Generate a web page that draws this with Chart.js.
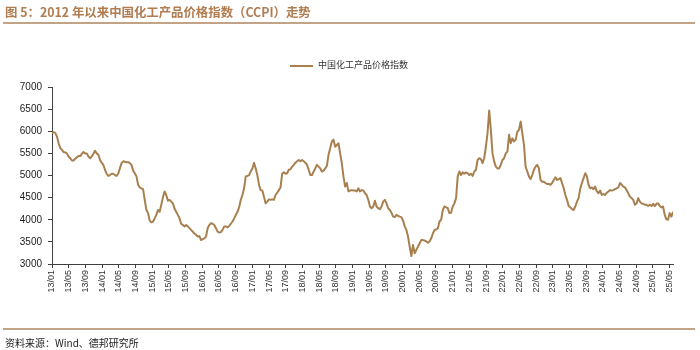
<!DOCTYPE html>
<html lang="zh-CN">
<head>
    <meta charset="UTF-8">
    <title>中国化工产品价格指数（CCPI）走势</title>
    <script src="https://cdn.jsdelivr.net/npm/chart.js"></script>
    <style>
        body {
            margin: 0;
            background: #fff;
            font-family: "Noto Sans CJK SC", "Liberation Sans", sans-serif;
        }
        .page {
            position: relative;
            width: 700px;
            height: 350px;
            overflow: hidden;
        }
        .title {
            position: absolute;
            left: 5px;
            top: 3px;
            font-size: 12.4px;
            font-weight: bold;
            color: #b07c50;
            white-space: nowrap;
        }
        .rule {
            position: absolute;
            left: 3px;
            width: 692px;
            height: 2px;
            background: #c2a386;
        }
        .legend {
            position: absolute;
            left: 290px;
            top: 58px;
            font-size: 9px;
            color: #333;
            white-space: nowrap;
        }
        .legend .swatch {
            display: inline-block;
            width: 23px;
            height: 2px;
            background: #a8804f;
            vertical-align: middle;
            margin-right: 5px;
        }
        .source {
            position: absolute;
            left: 5px;
            top: 335px;
            font-size: 10px;
            color: #222;
            white-space: nowrap;
        }
        .chart-box {
            position: absolute;
            left: 0;
            top: 0;
            width: 700px;
            height: 350px;
        }
    </style>
</head>
<body>
<div class="page">
    <div class="chart-box"><canvas id="ccpiChart"></canvas></div>
    <div class="title">图 5：2012 年以来中国化工产品价格指数（CCPI）走势</div>
    <div class="rule" style="top:22px"></div>
    <div class="legend"><span class="swatch"></span>中国化工产品价格指数</div>
    <div class="rule" style="top:328px"></div>
    <div class="source">资料来源：Wind、德邦研究所</div>
</div>

<script>
    // CCPI readings, evenly spaced from 2013/01 to mid-2025/06
    var ccpi2013to2015 = [5960,5980,5960,5880,5730,5620,5580,5530,5520,5500,5430,5390,5340,5340,5380,5410,5440,5440,5490,5530,
        5500,5500,5430,5390,5430,5490,5560,5500,5470,5350,5290,5240,5130,5040,4990,5010,5040,5040,5010,4990,
        5040,5160,5280,5320,5310,5300,5300,5280,5240,5110,5050,4980,4790,4730,4710,4690,4450,4220,4150,3980,
        3940,3960,4030,4110,4220,4180,4340,4510,4640,4560,4430,4450,4410,4370,4250];
    var ccpi2015to2017 = [4180,4110,4030,3910,3880,3850,3880,3850,3810,3770,3730,3690,3660,3620,3630,3540,3560,3580,3620,3810,
        3880,3920,3910,3880,3810,3730,3710,3720,3770,3850,3850,3830,3860,3910,3960,4030,4110,4180,4280,4450,
        4560,4710,4980,4990,5010,5090,5160,5290,5160,5010,4790,4670,4660,4520,4370,4410,4460,4450,4460,4450,
        4560,4610,4670,4730,5040,5070,5040,5050,5130,5140,5200,5240,5290,5320,5350];
    var ccpi2017to2020 = [5320,5350,5320,5290,5240,5130,5010,5010,5090,5160,5240,5200,5160,5090,5110,5160,5220,5470,5620,5770,
        5810,5650,5690,5730,5500,5280,4980,4750,4830,4640,4660,4670,4660,4660,4640,4710,4640,4670,4660,4600,
        4560,4450,4300,4260,4300,4430,4300,4260,4240,4300,4410,4450,4370,4260,4220,4160,4070,4060,4110,4090,
        4070,4060,3980,3850,3770,3620,3390,3180,3430,3240,3320,3390,3470,3540,3540];
    var ccpi2020to2022 = [3530,3510,3480,3510,3580,3690,3770,3780,3810,3960,4000,4220,4300,4280,4260,4150,4160,4300,4370,4490,
        4980,5090,5010,5070,5040,5070,5050,5010,5040,4990,5090,5130,5350,5390,5370,5280,5390,5650,5960,6470,
        6030,5500,5320,5200,5160,5160,5240,5350,5390,5500,5540,5920,5730,5840,5770,5810,5990,6030,6220,5960,
        5690,5200,5090,4980,4920,5010,5130,5200,5240,5160,4900,4860,4860,4830,4810];
    var ccpi2022to2025 = [4810,4790,4830,4900,4960,4900,4920,4940,4830,4710,4560,4450,4310,4280,4240,4220,4300,4410,4490,4710,
        4830,4940,5050,4980,4790,4710,4730,4690,4750,4640,4600,4660,4560,4580,4560,4610,4640,4670,4660,4670,
        4690,4710,4730,4830,4790,4750,4730,4670,4600,4520,4490,4450,4340,4370,4490,4410,4370,4360,4340,4340,
        4310,4340,4310,4360,4310,4360,4370,4310,4280,4300,4110,4010,4000,4150,4070,4180];

    var xTickLabels = ['13/01','13/05','13/09','14/01','14/05','14/09','15/01','15/05','15/09','16/01','16/05','16/09',
        '17/01','17/05','17/09','18/01','18/05','18/09','19/01','19/05','19/09','20/01','20/05','20/09',
        '21/01','21/05','21/09','22/01','22/05','22/09','23/01','23/05','23/09','24/01','24/05','24/09',
        '25/01','25/05'];
    var yTicks = [3000, 3500, 4000, 4500, 5000, 5500, 6000, 6500, 7000];

    var seriesName = '中国化工产品价格指数';
    var lineColor = '#a8804f';
    var axisColor = '#404040';
    var lastMonth = 148.8; // months after 13/01 of the final reading

    var ccpi = [].concat(ccpi2013to2015, ccpi2015to2017, ccpi2017to2020, ccpi2020to2022, ccpi2022to2025);
    var step = lastMonth / (ccpi.length - 1);
    var points = ccpi.map(function (v, i) {
        return { x: i * step, y: v };
    });

    var ctx = document.getElementById('ccpiChart').getContext('2d');
    new Chart(ctx, {
        type: 'line',
        data: {
            datasets: [{
                label: seriesName,
                data: points,
                borderColor: lineColor,
                backgroundColor: lineColor,
                borderWidth: 2,
                pointRadius: 0,
                tension: 0,
                fill: false,
                borderJoinStyle: 'round'
            }]
        },
        options: {
            responsive: true,
            maintainAspectRatio: false,
            devicePixelRatio: 1,
            animation: false,
            layout: {
                padding: { top: 87, right: 27, bottom: 46, left: 0 }
            },
            plugins: {
                legend: { display: false },
                tooltip: { enabled: false }
            },
            scales: {
                x: {
                    type: 'linear',
                    min: 0,
                    max: lastMonth,
                    afterBuildTicks: function (scale) {
                        scale.ticks = xTickLabels.map(function (_, i) {
                            return { value: i * 4 };
                        });
                    },
                    afterFit: function (scale) {
                        scale.height = 40;
                    },
                    ticks: {
                        autoSkip: false,
                        minRotation: 90,
                        maxRotation: 90,
                        padding: 2,
                        color: '#333',
                        font: { family: 'Liberation Sans', size: 9 },
                        callback: function (value, index) {
                            return xTickLabels[index];
                        }
                    },
                    grid: {
                        drawOnChartArea: false,
                        drawTicks: true,
                        tickLength: 4,
                        color: axisColor
                    },
                    border: { display: true, color: axisColor, width: 1 }
                },
                y: {
                    min: yTicks[0],
                    max: yTicks[yTicks.length - 1],
                    afterBuildTicks: function (scale) {
                        scale.ticks = yTicks.map(function (v) {
                            return { value: v };
                        });
                    },
                    afterFit: function (scale) {
                        scale.width = 52;
                    },
                    ticks: {
                        padding: 6,
                        color: '#222',
                        font: { family: 'Liberation Sans', size: 10 },
                        callback: function (value) {
                            return String(value);
                        }
                    },
                    grid: {
                        drawOnChartArea: false,
                        drawTicks: true,
                        tickLength: 4,
                        color: axisColor
                    },
                    border: { display: true, color: axisColor, width: 1 }
                }
            }
        }
    });
</script>
</body>
</html>
